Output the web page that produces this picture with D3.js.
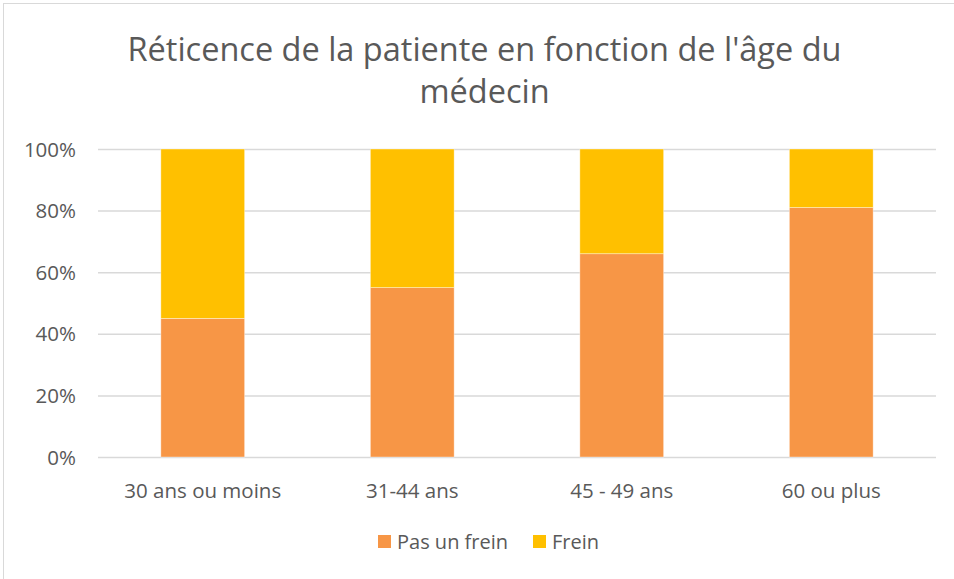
<!DOCTYPE html>
<html>
<head>
<meta charset="utf-8">
<script src="https://cdn.jsdelivr.net/npm/d3@7"></script>
<style>
  html, body { margin: 0; padding: 0; background: #fff; }
  svg { display: block; }
  svg text { font-family: "Open Sans", "DejaVu Sans", sans-serif; }
</style>
</head>
<body>
<svg id="chart" width="954" height="579"></svg>
<script>
// Data.
const categories = ['30 ans ou moins', '31-44 ans', '45 - 49 ans', '60 ou plus'];
const pasUnFrein = [0.45, 0.55, 0.66, 0.81];
const frein = [0.55, 0.45, 0.34, 0.19];
const seriesNames = ['Pas un frein', 'Frein'];
const seriesColors = ['#F79646', '#FFC000'];
const yTicks = [0, 0.2, 0.4, 0.6, 0.8, 1];
const titleLines = ["Réticence de la patiente en fonction de l'âge du", 'médecin'];

const svg = d3.select('#chart');
const textColor = '#595959';

// Chart border (only top/left visible in the reference crop).
svg.append('rect')
  .attr('x', 3.5).attr('y', 3.5)
  .attr('width', 960).attr('height', 600)
  .attr('fill', 'none')
  .attr('stroke', '#d9d9d9')
  .attr('stroke-width', 1);

// Title
svg.append('g')
  .selectAll('text')
  .data(titleLines)
  .join('text')
  .attr('x', 484.5)
  .attr('y', (d, i) => 61 + i * 42)
  .attr('text-anchor', 'middle')
  .attr('fill', textColor)
  .style('font-size', '32.5px')
  .text((d) => d);

const plot = { left: 98, right: 936, top: 149, bottom: 457 };

const x = d3.scaleBand()
  .domain(categories)
  .range([plot.left, plot.right])
  .paddingInner(0.6)
  .paddingOuter(0.3);

const y = d3.scaleLinear().domain([0, 1]).range([plot.bottom, plot.top]);

// Gridlines + percent labels
const yAxis = d3.axisLeft(y)
  .tickValues(yTicks)
  .tickFormat(d3.format('.0%'))
  .tickSize(-(plot.right - plot.left))
  .tickPadding(22);

const gy = svg.append('g')
  .attr('transform', `translate(${plot.left},0)`)
  .call(yAxis)
  .attr('font-family', null);
gy.select('.domain').remove();
gy.selectAll('.tick line').attr('stroke', '#d9d9d9').attr('stroke-width', 1.5);
gy.selectAll('.tick text')
  .attr('fill', textColor)
  .style('font-size', '20.5px')
  .attr('dy', '0.35em');

// Stack
const rows = categories.map((c, i) => ({ cat: c, 'Pas un frein': pasUnFrein[i], 'Frein': frein[i] }));
const stacked = d3.stack().keys(seriesNames)(rows);

svg.append('g')
  .selectAll('g')
  .data(stacked)
  .join('g')
  .attr('fill', (d, i) => seriesColors[i])
  .selectAll('rect')
  .data((d) => d)
  .join('rect')
  .attr('x', (d) => x(d.data.cat))
  .attr('width', x.bandwidth())
  .attr('y', (d) => y(d[1]))
  .attr('height', (d) => y(d[0]) - y(d[1]))
  .attr('stroke', '#fff')
  .attr('stroke-opacity', 0.5)
  .attr('stroke-width', 0.75);

// X axis labels
const xAxis = d3.axisBottom(x).tickSize(0).tickPadding(0);
const gx = svg.append('g')
  .attr('transform', `translate(0,${plot.bottom})`)
  .call(xAxis)
  .attr('font-family', null);
gx.select('.domain').remove();
gx.selectAll('.tick text')
  .attr('fill', textColor)
  .attr('y', 41)
  .attr('dy', 0)
  .style('font-size', '20.5px');

// Legend
const legendX = [378, 533];
const legend = svg.append('g')
  .selectAll('g')
  .data(seriesNames)
  .join('g')
  .attr('transform', (d, i) => `translate(${legendX[i]},535)`);
legend.append('rect')
  .attr('width', 13).attr('height', 13)
  .attr('fill', (d, i) => seriesColors[i]);
legend.append('text')
  .attr('x', 19).attr('y', 13.5)
  .attr('fill', textColor)
  .style('font-size', '20px')
  .text((d) => d);
</script>
</body>
</html>
